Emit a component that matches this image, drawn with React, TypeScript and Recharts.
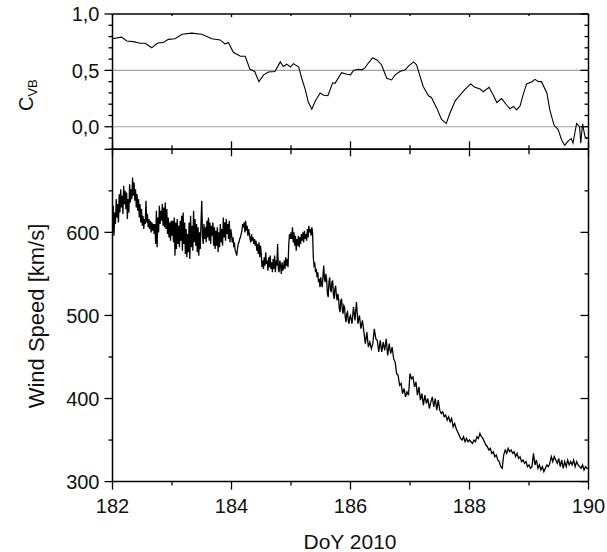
import React from "react";
import { LineChart, Line, XAxis, YAxis, ReferenceLine } from "recharts";

const W = 607;
const H = 552;
const FONT = "'Liberation Sans', Arial, Helvetica, sans-serif";

// x axis (day of year)
const dayTicks = [182, 183, 184, 185, 186, 187, 188, 189, 190];
const dayLabels = [182, 184, 186, 188, 190];

// top panel: correlation C_VB
const cvbTicks = [-0.2, -0.1, 0, 0.1, 0.2, 0.3, 0.4, 0.5, 0.6, 0.7, 0.8, 0.9, 1.0];
const cvbMajor = [0, 0.5, 1.0];
const cvbGrid = [0, 0.5];

const cvbDay = [
  182.0, 182.15, 182.24, 182.35, 182.46, 182.55, 182.66, 182.75, 182.86, 182.94,
  183.05, 183.17, 183.33, 183.5, 183.67, 183.81, 183.89, 183.95, 184.03, 184.15,
  184.23, 184.31, 184.39, 184.46, 184.54, 184.62, 184.73, 184.82, 184.87, 184.93,
  184.99, 185.04, 185.13, 185.18, 185.24, 185.29, 185.35, 185.41, 185.49, 185.55,
  185.62, 185.7, 185.74, 185.85, 185.94, 186.0, 186.05, 186.13, 186.19, 186.24,
  186.3, 186.37, 186.44, 186.52, 186.61, 186.69, 186.75, 186.83, 186.92, 186.97,
  187.06, 187.11, 187.22, 187.31, 187.36, 187.45, 187.53, 187.61, 187.67, 187.76,
  187.84, 187.92, 188.02, 188.09, 188.18, 188.23, 188.33, 188.4, 188.46, 188.54,
  188.62, 188.68, 188.74, 188.79, 188.85, 188.91, 188.96, 189.05, 189.1, 189.16,
  189.21, 189.3, 189.35, 189.42, 189.49, 189.55, 189.6, 189.66, 189.71, 189.74,
  189.8, 189.85, 189.87, 189.9, 189.94, 189.98,
];
const cvbValue = [
  0.78, 0.795, 0.76, 0.755, 0.74, 0.74, 0.7, 0.74, 0.75, 0.775,
  0.78, 0.82, 0.83, 0.82, 0.78, 0.77, 0.735, 0.745, 0.66, 0.625,
  0.625, 0.51, 0.49, 0.4, 0.46, 0.485, 0.49, 0.575, 0.535, 0.555,
  0.53, 0.56, 0.53, 0.43, 0.33, 0.22, 0.155, 0.23, 0.3, 0.28,
  0.275, 0.39, 0.385, 0.48, 0.465, 0.46, 0.5, 0.51, 0.505, 0.52,
  0.565, 0.61, 0.595, 0.55, 0.43, 0.415, 0.46, 0.49, 0.505, 0.535,
  0.575, 0.55, 0.36, 0.275, 0.26, 0.165, 0.065, 0.03, 0.12, 0.23,
  0.28, 0.33, 0.38, 0.35, 0.335, 0.31, 0.35, 0.28, 0.215, 0.25,
  0.195, 0.16, 0.18, 0.15, 0.185, 0.3, 0.38, 0.4, 0.42, 0.4,
  0.4, 0.3, 0.15, 0.015, -0.025, -0.12, -0.165, -0.125, -0.105, -0.145,
  0.03, 0.0, -0.145, 0.025, -0.085, -0.105,
];

// bottom panel: wind speed
const windTicks = [300, 350, 400, 450, 500, 550, 600, 650, 700];
const windMajor = [300, 400, 500, 600, 700];
const windLabels = [300, 400, 500, 600];

// noisy first half, every 0.0125 day from DoY 182 to 186
const windFineStart = 182;
const windFineStep = 0.0125;
const windFine = [
  600, 632, 596, 624, 610, 640, 618, 634, 612, 646, 624, 652, 630, 644, 622, 656, 634, 650, 628, 648,
  616, 640, 624, 658, 636, 652, 640, 666, 644, 660, 638, 652, 630, 646, 626, 640, 618, 634, 612, 628,
  608, 620, 604, 616, 610, 638, 612, 622, 606, 616, 604, 614, 600, 612, 602, 610, 598, 610, 586, 626,
  582, 618, 600, 632, 610, 626, 614, 634, 608, 630, 606, 636, 604, 628, 598, 618, 594, 612, 590, 614,
  596, 614, 588, 618, 572, 612, 580, 616, 586, 608, 582, 614, 590, 620, 578, 624, 586, 612, 574, 604,
  570, 598, 576, 612, 568, 620, 582, 608, 578, 626, 588, 616, 584, 610, 576, 606, 572, 600, 580, 612,
  638, 596, 586, 610, 592, 606, 588, 614, 594, 618, 590, 612, 586, 608, 596, 612, 584, 606, 580, 602,
  584, 606, 576, 600, 582, 610, 588, 604, 584, 618, 594, 612, 590, 616, 598, 610, 592, 614, 588, 604,
  598, 588, 594, 584, 586, 578, 576, 572, 580, 586, 588, 592, 594, 598, 602, 610, 606, 612, 600, 614,
  602, 608, 596, 604, 598, 592, 588, 598, 590, 594, 586, 592, 584, 590, 578, 586, 574, 588, 570, 584,
  574, 558, 566, 556, 570, 560, 576, 562, 566, 554, 570, 558, 572, 556, 564, 552, 568, 556, 572, 552,
  566, 560, 586, 556, 552, 566, 560, 550, 564, 554, 558, 566, 556, 570, 560, 568, 558, 586, 598, 592,
  600, 592, 606, 588, 600, 584, 596, 578, 592, 584, 596, 582, 594, 586, 598, 590, 600, 588, 602, 592,
  598, 590, 604, 594, 608, 600, 604, 596, 606, 600, 570, 560, 562, 552, 556, 546, 552, 540, 544, 534,
  546, 538, 534, 548, 560, 544, 540, 550, 542, 526, 522, 540, 546, 532, 528, 540, 542, 526, 520, 532,
  536, 524, 518, 526, 520, 508, 504, 518, 520, 508, 502, 512, 510, 498, 492, 502, 504, 494, 490, 498,
];

// calmer second half, every 0.025 day from DoY 186 to 190
const windCoarseStart = 186;
const windCoarseStep = 0.025;
const windCoarse = [
  500, 490, 510, 494, 516, 490, 500, 484, 494, 480, 466, 480, 462, 468, 460, 466, 484, 472, 470, 456,
  470, 456, 468, 458, 472, 452, 466, 454, 462, 448, 444, 430, 428, 416, 418, 406, 412, 402, 408, 404,
  430, 424, 426, 414, 420, 404, 414, 398, 406, 392, 404, 394, 400, 388, 396, 402, 390, 400, 386, 398,
  386, 382, 384, 378, 380, 374, 378, 372, 376, 366, 370, 364, 360, 356, 352, 350, 354, 348, 352, 348,
  350, 348, 346, 350, 348, 354, 352, 358, 354, 352, 348, 344, 342, 338, 340, 334, 336, 330, 332, 326,
  324, 318, 316, 332, 338, 334, 340, 336, 338, 334, 336, 330, 334, 328, 330, 324, 326, 322, 324, 318,
  320, 316, 318, 334, 320, 326, 316, 320, 314, 318, 312, 316, 320, 318, 322, 330, 324, 330, 326, 322,
  328, 318, 326, 316, 324, 318, 326, 320, 324, 320, 326, 318, 324, 320, 318, 316, 320, 314, 318, 316,
  316,
];

const cvbData = cvbDay.map((d, i) => ({ day: d, c: cvbValue[i] }));
const windData = [
  ...windFine.map((v, i) => ({ day: +(windFineStart + i * windFineStep).toFixed(4), v })),
  ...windCoarse.map((v, i) => ({ day: +(windCoarseStart + i * windCoarseStep).toFixed(4), v })),
];

const has = (arr: number[], v: number) => arr.some((a) => Math.abs(a - v) < 1e-6);
const commaFmt = (v: number) => v.toFixed(1).replace(".", ",");

type Side = "left" | "right" | "top" | "bottom";
interface TickSpec {
  side: Side;
  majors: number[];
  labels?: number[];
  fmt?: (v: number) => string;
  majorOut: number;
  majorIn: number;
  minorOut: number;
  minorIn: number;
}

function makeTick(spec: TickSpec) {
  return (props: any) => {
    const { x, y, payload } = props;
    const v = payload.value;
    const major = has(spec.majors, v);
    const out = major ? spec.majorOut : spec.minorOut;
    const inn = major ? spec.majorIn : spec.minorIn;
    const showLabel = !!spec.labels && has(spec.labels, v);
    const text = spec.fmt ? spec.fmt(v) : String(v);
    let line = null;
    let label = null;
    if (spec.side === "left") {
      line = <line x1={x - out} x2={x + inn} y1={y} y2={y} />;
      if (showLabel)
        label = (
          <text x={x - 13} y={y} dy="0.36em" textAnchor="end">
            {text}
          </text>
        );
    } else if (spec.side === "right") {
      line = <line x1={x - inn} x2={x + out} y1={y} y2={y} />;
    } else if (spec.side === "top") {
      line = <line x1={x} x2={x} y1={y - out} y2={y + inn} />;
    } else {
      line = <line x1={x} x2={x} y1={y - inn} y2={y + out} />;
      if (showLabel)
        label = (
          <text x={x} y={y + 31.5} textAnchor="middle">
            {text}
          </text>
        );
    }
    return (
      <g>
        <g stroke="#000" strokeWidth={1.3}>{line}</g>
        {label && (
          <g fill="#111" stroke="none" fontSize={20} fontFamily={FONT}>
            {label}
          </g>
        )}
      </g>
    );
  };
}

const AX = { stroke: "#000", strokeWidth: 1.5 };
const noTick = { tickLine: false, tickSize: 0, tickMargin: 0, interval: 0 as const };

const topBottomTick = makeTick({ side: "bottom", majors: dayLabels, majorOut: 0, majorIn: 8, minorOut: 0, minorIn: 4 });
const topTopTick = makeTick({ side: "top", majors: dayLabels, majorOut: 0, majorIn: 3, minorOut: 0, minorIn: 2 });
const cvbLeftTick = makeTick({ side: "left", majors: cvbMajor, labels: cvbMajor, fmt: commaFmt, majorOut: 8, majorIn: 0, minorOut: 4, minorIn: 0 });
const cvbRightTick = makeTick({ side: "right", majors: cvbMajor, majorOut: 0, majorIn: 8, minorOut: 0, minorIn: 4 });

const windBottomTick = makeTick({ side: "bottom", majors: dayLabels, labels: dayLabels, majorOut: 8, majorIn: 0, minorOut: 4, minorIn: 0 });
const windTopTick = makeTick({ side: "top", majors: dayLabels, majorOut: 0, majorIn: 7, minorOut: 0, minorIn: 5 });
const windLeftTick = makeTick({ side: "left", majors: windMajor, labels: windLabels, majorOut: 8, majorIn: 0, minorOut: 4, minorIn: 0 });
const windRightTick = makeTick({ side: "right", majors: windMajor, majorOut: 0, majorIn: 8, minorOut: 0, minorIn: 4 });

function CvbPanel() {
  return (
    <LineChart width={W} height={H} data={cvbData} margin={{ top: 0, right: 0, bottom: 372.7, left: 0 }}>
      <XAxis xAxisId="b" dataKey="day" type="number" domain={[182, 190]} allowDataOverflow ticks={dayTicks} orientation="bottom" height={30} axisLine={AX} tick={topBottomTick} {...noTick} />
      <XAxis xAxisId="t" dataKey="day" type="number" domain={[182, 190]} allowDataOverflow ticks={dayTicks} orientation="top" height={14} axisLine={AX} tick={topTopTick} {...noTick} />
      <YAxis yAxisId="l" type="number" domain={[-0.2, 1.0]} allowDataOverflow ticks={cvbTicks} width={112.5} axisLine={AX} tick={cvbLeftTick} {...noTick} />
      <YAxis yAxisId="r" orientation="right" type="number" domain={[-0.2, 1.0]} allowDataOverflow ticks={cvbTicks} width={18.5} axisLine={AX} tick={cvbRightTick} {...noTick} />
      {cvbGrid.map((g) => (
        <ReferenceLine key={g} xAxisId="b" yAxisId="l" y={g} stroke="#a3a3a3" strokeWidth={1.2} />
      ))}
      <Line xAxisId="b" yAxisId="l" type="linear" dataKey="c" stroke="#000" strokeWidth={1.1} dot={false} activeDot={false} isAnimationActive={false} />
    </LineChart>
  );
}

function WindPanel() {
  return (
    <LineChart width={W} height={H} data={windData} margin={{ top: 119.3, right: 0, bottom: 30.4, left: 0 }}>
      <XAxis xAxisId="b" dataKey="day" type="number" domain={[182, 190]} allowDataOverflow ticks={dayTicks} orientation="bottom" height={40} axisLine={AX} tick={windBottomTick} {...noTick} />
      <XAxis xAxisId="t" dataKey="day" type="number" domain={[182, 190]} allowDataOverflow ticks={dayTicks} orientation="top" height={30} axisLine={AX} tick={windTopTick} {...noTick} />
      <YAxis yAxisId="l" type="number" domain={[300, 700]} allowDataOverflow ticks={windTicks} width={112.5} axisLine={AX} tick={windLeftTick} {...noTick} />
      <YAxis yAxisId="r" orientation="right" type="number" domain={[300, 700]} allowDataOverflow ticks={windTicks} width={18.5} axisLine={AX} tick={windRightTick} {...noTick} />
      <Line xAxisId="b" yAxisId="l" type="linear" dataKey="v" stroke="#000" strokeWidth={1.3} dot={false} activeDot={false} isAnimationActive={false} />
    </LineChart>
  );
}

function Titles() {
  return (
    <svg width={W} height={H} style={{ position: "absolute", left: 0, top: 0, pointerEvents: "none" }}>
      <g fill="#111" fontFamily={FONT}>
        <text x={33} y={111} fontSize={20} transform="rotate(-90 33 111)">
          C
          <tspan fontSize={13} dy={4}>
            VB
          </tspan>
        </text>
        <text x={44} y={316} fontSize={22} textAnchor="middle" transform="rotate(-90 44 316)">
          Wind Speed [km/s]
        </text>
        <text x={350} y={549} fontSize={21} textAnchor="middle">
          DoY 2010
        </text>
      </g>
    </svg>
  );
}

export default function App() {
  return (
    <div style={{ position: "absolute", left: 0, top: 0, width: W, height: H, background: "#fff", overflow: "hidden" }}>
      <div style={{ position: "absolute", left: 0, top: 0 }}>
        <CvbPanel />
      </div>
      <div style={{ position: "absolute", left: 0, top: 0 }}>
        <WindPanel />
      </div>
      <Titles />
    </div>
  );
}
